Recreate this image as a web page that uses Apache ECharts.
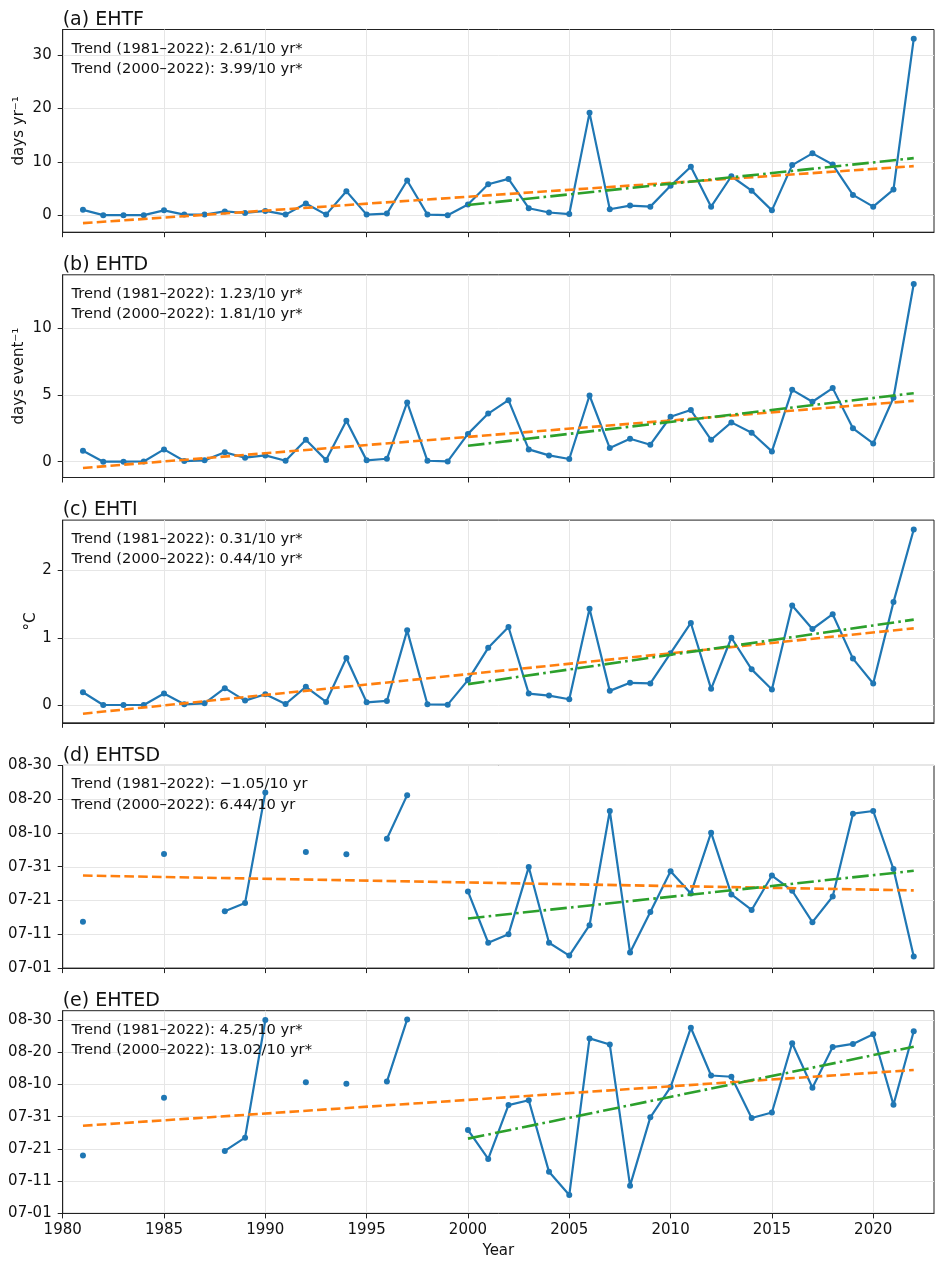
<!DOCTYPE html>
<html>
<head>
<meta charset="utf-8">
<title>Extreme heat indices 1981-2022</title>
<script src="https://cdn.jsdelivr.net/npm/echarts@6/dist/echarts.min.js"></script>
<style>
  html, body { margin: 0; padding: 0; background: #fff; }
  #chart { width: 944px; height: 1265px; }
</style>
</head>
<body>
<div id="chart"></div>
<script>
// ---- data ----
const years = [1981, 1982, 1983, 1984, 1985, 1986, 1987, 1988, 1989, 1990,
  1991, 1992, 1993, 1994, 1995, 1996, 1997, 1998, 1999, 2000,
  2001, 2002, 2003, 2004, 2005, 2006, 2007, 2008, 2009, 2010,
  2011, 2012, 2013, 2014, 2015, 2016, 2017, 2018, 2019, 2020, 2021, 2022]

const ehtf = [1.0, 0, 0, 0, 0.9, 0.1, 0.1, 0.7, 0.4, 0.8,
  0.1, 2.2, 0.1, 4.5, 0.1, 0.3, 6.5, 0.1, 0, 2.0,
  5.8, 6.8, 1.3, 0.5, 0.2, 19.2, 1.1, 1.8, 1.6, 5.5,
  9.1, 1.6, 7.3, 4.6, 0.9, 9.4, 11.6, 9.5, 3.8, 1.6, 4.8, 33.1]

const ehtd = [0.82, 0, 0, 0.02, 0.92, 0.05, 0.1, 0.7, 0.3, 0.47,
  0.07, 1.64, 0.12, 3.06, 0.1, 0.22, 4.43, 0.07, 0.02, 2.08,
  3.6, 4.6, 0.92, 0.47, 0.2, 4.95, 1.02, 1.72, 1.27, 3.36,
  3.86, 1.64, 2.94, 2.16, 0.77, 5.37, 4.48, 5.5, 2.5, 1.37, 4.78, 13.28]

const ehti = [0.19, 0, 0, 0, 0.17, 0.01, 0.025, 0.25, 0.065, 0.16,
  0.015, 0.27, 0.045, 0.70, 0.04, 0.06, 1.11, 0.01, 0.005, 0.37,
  0.85, 1.16, 0.17, 0.14, 0.085, 1.43, 0.21, 0.33, 0.32, 0.77,
  1.22, 0.24, 1.0, 0.53, 0.23, 1.48, 1.13, 1.35, 0.69, 0.32, 1.53, 2.61]

// start / end dates as days after 07-01 (null = no event that year)
const ehtsd = [13.7, null, null, null, 33.8, null, null, 16.8, 19.3, 52.0,
  null, 34.4, null, 33.7, null, 38.3, 51.2, null, null, 22.7,
  7.5, 10.0, 29.9, 7.5, 3.7, 12.7, 46.5, 4.6, 16.6, 28.7,
  22.1, 40.1, 21.8, 17.2, 27.4, 22.9, 13.6, 21.2, 45.7, 46.5, 29.3, 3.4]

const ehted = [18.0, null, null, null, 35.9, null, null, 19.4, 23.5, 60.0,
  null, 40.7, null, 40.2, null, 40.9, 60.2, null, null, 25.9,
  16.9, 33.6, 35.1, 12.9, 5.7, 54.3, 52.4, 8.6, 29.8, 39.2,
  57.6, 42.8, 42.4, 29.6, 31.3, 52.8, 39.0, 51.6, 52.6, 55.6, 33.7, 56.5]

// fitted trend lines, value at first and last year
const trendAllYears = [1981, 2022]
const trendRecentYears = [2000, 2022]
const ehtfTrendAll = [-1.5, 9.2]
const ehtfTrendRecent = [1.9, 10.7]
const ehtdTrendAll = [-0.47, 4.55]
const ehtdTrendRecent = [1.19, 5.12]
const ehtiTrendAll = [-0.13, 1.14]
const ehtiTrendRecent = [0.31, 1.27]
const ehtsdTrendAll = [27.4, 23.0]
const ehtsdTrendRecent = [14.7, 28.8]
const ehtedTrendAll = [27.2, 44.5]
const ehtedTrendRecent = [23.2, 51.7]

const titles = ['(a) EHTF', '(b) EHTD', '(c) EHTI', '(d) EHTSD', '(e) EHTED']
const units = ['days yr⁻¹', 'days event⁻¹', '°C', '', '']
const trendTexts = [
  ['Trend (1981–2022): 2.61/10 yr*', 'Trend (2000–2022): 3.99/10 yr*'],
  ['Trend (1981–2022): 1.23/10 yr*', 'Trend (2000–2022): 1.81/10 yr*'],
  ['Trend (1981–2022): 0.31/10 yr*', 'Trend (2000–2022): 0.44/10 yr*'],
  ['Trend (1981–2022): −1.05/10 yr', 'Trend (2000–2022): 6.44/10 yr'],
  ['Trend (1981–2022): 4.25/10 yr*', 'Trend (2000–2022): 13.02/10 yr*']
]
const xTicks = [1980, 1985, 1990, 1995, 2000, 2005, 2010, 2015, 2020]
const dateTicks = [0, 10, 20, 30, 40, 50, 60]
const yTicks = [[0, 10, 20, 30], [0, 5, 10], [0, 1, 2], dateTicks, dateTicks]

// ---- layout / style ----
const FONT = 'DejaVu Sans'
const BLUE = '#1f77b4'
const ORANGE = '#ff7f0e'
const GREEN = '#2ca02c'
const FRAME = '#222'
const GRIDC = '#e6e6e6'
const LEFT = 62.7
const RIGHT = 10
const HEIGHT = 202.7
const tops = [29.5, 274.8, 520.1, 765.4, 1010.7]
const yRanges = [[-3.2, 34.85], [-1.18, 13.97], [-0.265, 2.75], [0, 60], [0, 62.9]]
const nameGaps = [36, 36, 24, 0, 0]

const panels = [
  { values: ehtf, all: ehtfTrendAll, recent: ehtfTrendRecent },
  { values: ehtd, all: ehtdTrendAll, recent: ehtdTrendRecent },
  { values: ehti, all: ehtiTrendAll, recent: ehtiTrendRecent },
  { values: ehtsd, all: ehtsdTrendAll, recent: ehtsdTrendRecent, date: true },
  { values: ehted, all: ehtedTrendAll, recent: ehtedTrendRecent, date: true }
]

function mmdd(v) {
  const d = Math.round(v)
  if (d <= 30) return '07-' + String(d + 1).padStart(2, '0')
  return '08-' + String(d - 30).padStart(2, '0')
}

const grid = []
const xAxis = []
const yAxis = []
const series = []
const graphic = []

panels.forEach((p, i) => {
  grid.push({
    left: LEFT, right: RIGHT, top: tops[i], height: HEIGHT,
    show: true, borderColor: FRAME, borderWidth: 1, backgroundColor: 'transparent'
  })

  const last = i === panels.length - 1
  xAxis.push({
    gridIndex: i, type: 'value', min: 1980, max: 2023,
    axisLine: { show: true, onZero: false, lineStyle: { color: FRAME, width: 1 } },
    axisTick: { show: true, length: 5, customValues: xTicks, lineStyle: { color: FRAME, width: 1 } },
    axisLabel: {
      show: last, customValues: xTicks, margin: 9,
      color: '#111', fontSize: 15, fontFamily: FONT,
      formatter: v => String(v)
    },
    splitLine: { show: true, lineStyle: { color: GRIDC, width: 1 } },
    name: last ? 'Year' : '', nameLocation: 'middle', nameGap: 30, nameMoveOverlap: false,
    nameTextStyle: { color: '#111', fontSize: 15, fontFamily: FONT }
  })

  yAxis.push({
    gridIndex: i, type: 'value', min: yRanges[i][0], max: yRanges[i][1],
    axisLine: { show: true, onZero: false, lineStyle: { color: FRAME, width: 1 } },
    axisTick: { show: true, length: 5, customValues: yTicks[i], lineStyle: { color: FRAME, width: 1 } },
    axisLabel: {
      customValues: yTicks[i], margin: 11,
      color: '#111', fontSize: 15, fontFamily: FONT,
      formatter: p.date ? mmdd : (v => String(v))
    },
    splitLine: { show: true, lineStyle: { color: GRIDC, width: 1 } },
    name: units[i], nameLocation: 'middle', nameGap: nameGaps[i], nameMoveOverlap: false,
    nameTextStyle: { color: '#111', fontSize: 15, fontFamily: FONT }
  })

  series.push({
    type: 'line', xAxisIndex: i, yAxisIndex: i,
    data: years.map((y, k) => [y, p.values[k] == null ? '-' : p.values[k]]),
    connectNulls: false,
    symbol: 'circle', symbolSize: 6, showSymbol: true,
    lineStyle: { color: BLUE, width: 2.2 },
    itemStyle: { color: BLUE },
    z: 2
  })
  series.push({
    type: 'line', xAxisIndex: i, yAxisIndex: i,
    data: trendAllYears.map((y, k) => [y, p.all[k]]),
    symbol: 'none',
    lineStyle: { color: ORANGE, width: 2.6, type: [9.6, 4.2] },
    z: 3
  })
  series.push({
    type: 'line', xAxisIndex: i, yAxisIndex: i,
    data: trendRecentYears.map((y, k) => [y, p.recent[k]]),
    symbol: 'none',
    lineStyle: { color: GREEN, width: 2.6, type: [16.6, 4.2, 2.6, 4.2] },
    z: 4
  })

  graphic.push({
    type: 'text', x: LEFT, y: tops[i] - 9.7, silent: true,
    style: { text: titles[i], fill: '#111', font: '19px "DejaVu Sans"', verticalAlign: 'middle' }
  })
  trendTexts[i].forEach((t, k) => {
    graphic.push({
      type: 'text', x: 71.5, y: tops[i] + 19.2 + k * 20.3, silent: true, z: 10,
      style: { text: t, fill: '#111', font: '14.7px "DejaVu Sans"', verticalAlign: 'middle' }
    })
  })
})

const chart = echarts.init(document.getElementById('chart'))
chart.setOption({
  animation: false,
  backgroundColor: '#fff',
  textStyle: { fontFamily: FONT },
  grid, xAxis, yAxis, series, graphic
})
window.addEventListener('resize', () => chart.resize())
</script>
</body>
</html>
